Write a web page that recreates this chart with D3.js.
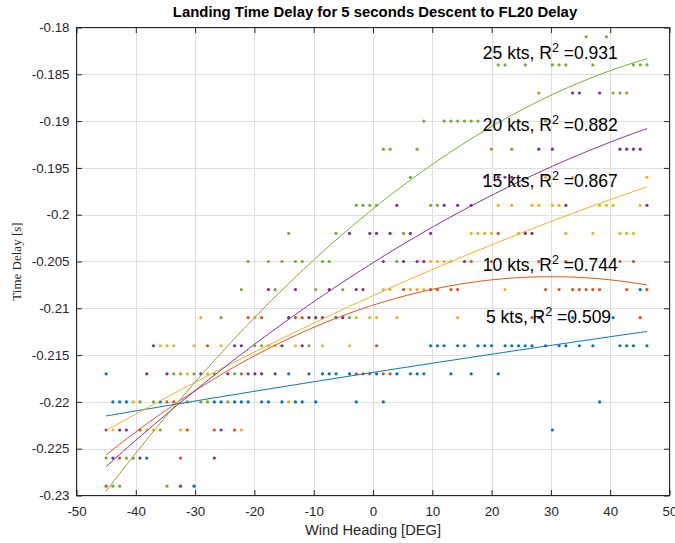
<!DOCTYPE html>
<html>
<head>
<meta charset="utf-8">
<script src="https://cdn.jsdelivr.net/npm/d3@7"></script>
<style>
html, body { margin: 0; padding: 0; background: #ffffff; }
svg { display: block; }
</style>
</head>
<body>
<svg id="chart" width="675" height="543"></svg>
<script>
// ---------------- DATA ----------------
const titleText = "Landing Time Delay for 5 seconds Descent to FL20 Delay";
const xLabelText = "Wind Heading [DEG]";
const yLabelText = "Time Delay [s]";

const xTicks = [-50, -40, -30, -20, -10, 0, 10, 20, 30, 40, 50];
const xTickLabels = ["-50", "-40", "-30", "-20", "-10", "0", "10", "20", "30", "40", "50"];
const yTicks = [-0.23, -0.225, -0.22, -0.215, -0.21, -0.205, -0.2, -0.195, -0.19, -0.185, -0.18];
const yTickLabels = ["-0.23", "-0.225", "-0.22", "-0.215", "-0.21", "-0.205", "-0.2", "-0.195", "-0.19", "-0.185", "-0.18"];

// wind headings (deg) sampled in the runs, indexed 0..80
const headings = [
  -45.00, -43.86, -42.72, -41.58, -40.44, -39.30, -38.16, -37.02, -35.88, -34.74,
  -33.60, -32.46, -31.32, -30.18, -29.04, -27.90, -26.76, -25.62, -24.48, -23.34,
  -22.20, -21.06, -19.92, -18.78, -17.64, -16.50, -15.36, -14.22, -13.08, -11.94,
  -10.80, -9.66, -8.52, -7.38, -6.24, -5.10, -3.96, -2.82, -1.68, -0.54,
  0.60, 1.74, 2.88, 4.02, 5.16, 6.30, 7.44, 8.58, 9.72, 10.86,
  12.00, 13.14, 14.28, 15.42, 16.56, 17.70, 18.84, 19.98, 21.12, 22.26,
  23.40, 24.54, 25.68, 26.82, 27.96, 29.10, 30.24, 31.38, 32.52, 33.66,
  34.80, 35.94, 37.08, 38.22, 39.36, 40.50, 41.64, 42.78, 43.92, 45.06,
  46.20
];

const seriesNames = ["5 kts", "10 kts", "15 kts", "20 kts", "25 kts"];
const r2Values = ["0.509", "0.744", "0.867", "0.882", "0.931"];

// delay value -> heading indices where that delay was observed
const delay5kts = [
  [-0.208, [79]],
  [-0.211, [64, 69, 75]],
  [-0.214, [48, 49, 50, 52, 53, 55, 56, 57, 59, 60, 61, 62, 63, 65, 67, 68, 70, 72, 76, 77, 78, 80]],
  [-0.217, [0, 27, 30, 32, 33, 34, 36, 40, 43, 45, 46, 47, 51, 54, 58]],
  [-0.220, [1, 2, 3, 8, 16, 17, 19, 20, 21, 23, 24, 26, 28, 29, 31, 37, 41, 73]],
  [-0.223, [66]],
  [-0.226, [6]],
  [-0.229, [13]]
];
const delay10kts = [
  [-0.202, [58]],
  [-0.205, [54, 57, 64, 68, 76, 78]],
  [-0.208, [44, 48, 49, 51, 52, 65, 67, 69, 70, 71, 72, 73, 77, 80]],
  [-0.211, [21, 23, 28, 29, 61, 63, 79]],
  [-0.214, [15, 40]],
  [-0.217, [20, 37, 38, 39, 41, 42]],
  [-0.220, [9, 10]],
  [-0.223, [5, 12, 16, 19]],
  [-0.226, [2, 11]],
  [-0.229, [0]]
];
const delay15kts = [
  [-0.196, [65, 69, 80]],
  [-0.199, [58, 60, 63, 64, 66, 67, 73, 74, 75, 79]],
  [-0.202, [54, 55, 56, 57, 61, 68, 72, 76, 77, 78]],
  [-0.205, [48, 49, 50, 51]],
  [-0.208, [41, 42, 45, 46, 47, 59]],
  [-0.211, [14, 22, 37, 39, 40, 43, 52]],
  [-0.214, [8, 9, 10, 13, 17, 24, 25, 28, 32, 36]],
  [-0.217, [12, 15]],
  [-0.220, [4, 27]],
  [-0.223, [1, 6, 7, 11, 20]]
];
const delay20kts = [
  [-0.187, [69, 70, 73]],
  [-0.193, [64, 66, 76, 77, 78, 79]],
  [-0.196, [56, 58, 59, 60]],
  [-0.199, [43, 50, 52, 54, 68, 80]],
  [-0.202, [36, 39, 40, 42, 45, 48, 62, 63]],
  [-0.205, [41, 44, 46, 47, 53]],
  [-0.208, [24, 28, 33, 37, 38]],
  [-0.211, [27, 30, 31, 32, 34, 35]],
  [-0.214, [7, 19, 20, 26, 29]],
  [-0.217, [6, 9, 14, 18, 21, 22, 23, 25]],
  [-0.223, [0, 2, 3, 17]],
  [-0.226, [1, 5, 16]],
  [-0.229, [11]]
];
const delay25kts = [
  [-0.181, [71, 74]],
  [-0.184, [58, 59, 62, 66, 67, 68, 72, 78, 79, 80]],
  [-0.187, [64, 75, 76, 77]],
  [-0.190, [47, 50, 51, 52, 53, 54, 55, 61, 65, 73]],
  [-0.193, [41, 42, 46, 57, 60]],
  [-0.196, [45]],
  [-0.199, [37, 38, 39, 40, 48, 49]],
  [-0.202, [27, 34, 44]],
  [-0.205, [21, 24, 26, 28, 29, 32, 33, 43]],
  [-0.208, [20, 25, 31, 35]],
  [-0.211, [17, 36]],
  [-0.214, [22, 23, 30]],
  [-0.217, [10, 11, 13, 16, 19]],
  [-0.220, [5, 7, 12, 14, 15, 18]],
  [-0.223, [8]],
  [-0.226, [0, 3, 4]],
  [-0.229, [1, 2, 9]]
];

// quadratic fit coefficients [p2, p1, p0] (delay = p2*h^2 + p1*h + p0)
const fit5kts = [-9.5e-8, 9.903e-5, -0.21685];
const fit10kts = [-3.385e-6, 2.031e-4, -0.20967];
const fit15kts = [-7.48e-7, 2.862e-4, -0.20865];
const fit20kts = [-1.906e-6, 3.982e-4, -0.20513];
const fit25kts = [-3.541e-6, 5.108e-4, -0.19938];

// ---------------- LAYOUT / STYLE ----------------
const W = 675, H = 543;
const plotLeft = 76.5, plotRight = 669.5, plotTop = 27.5, plotBottom = 495.5;
const colors = ["#0072BD", "#D95319", "#EDB120", "#7E2F8E", "#77AC30"];
const axisColor = "#262626";
const gridColor = "#dfdfdf";
const sansFont = "'Liberation Sans', Arial, Helvetica, sans-serif";
const serifFont = "'Liberation Serif', 'Times New Roman', serif";
// annotation anchors (data coords, text centered at x, baseline at y)
const annoAnchors = [
  { x: 29.6, y: -0.21159 },
  { x: 29.9, y: -0.20598 },
  { x: 29.9, y: -0.19709 },
  { x: 29.9, y: -0.19109 },
  { x: 29.9, y: -0.18341 }
];

const allDelays = [delay5kts, delay10kts, delay15kts, delay20kts, delay25kts];
const allFits = [fit5kts, fit10kts, fit15kts, fit20kts, fit25kts];

// ---------------- DRAW ----------------
const svg = d3.select("#chart");
svg.append("rect").attr("width", W).attr("height", H).attr("fill", "#ffffff");

const x = d3.scaleLinear().domain([-50, 50]).range([plotLeft, plotRight]);
const y = d3.scaleLinear().domain([-0.23, -0.18]).range([plotBottom, plotTop]);

// grid
const grid = svg.append("g").attr("class", "grid");
grid.selectAll("line.gx").data(xTicks).join("line")
  .attr("class", "gx")
  .attr("x1", d => Math.round(x(d)) + 0.5).attr("x2", d => Math.round(x(d)) + 0.5)
  .attr("y1", plotTop).attr("y2", plotBottom)
  .attr("stroke", gridColor).attr("stroke-width", 1);
grid.selectAll("line.gy").data(yTicks).join("line")
  .attr("class", "gy")
  .attr("y1", d => Math.round(y(d)) + 0.5).attr("y2", d => Math.round(y(d)) + 0.5)
  .attr("x1", plotLeft).attr("x2", plotRight)
  .attr("stroke", gridColor).attr("stroke-width", 1);

// scatter points
const dots = svg.append("g").attr("class", "dots");
allDelays.forEach((rows, si) => {
  const pts = [];
  rows.forEach(([delay, idx]) => idx.forEach(k => pts.push([headings[k], delay])));
  dots.append("g").selectAll("circle").data(pts).join("circle")
    .attr("cx", d => x(d[0]))
    .attr("cy", d => y(d[1]))
    .attr("r", 1.6)
    .attr("fill", colors[si]);
});

// fit curves
const hMin = d3.min(headings), hMax = d3.max(headings);
const hSamples = d3.range(0, 201).map(i => hMin + (hMax - hMin) * i / 200);
const line = d3.line().x(d => x(d[0])).y(d => y(d[1]));
const curves = svg.append("g").attr("class", "fits");
allFits.forEach((p, si) => {
  const pts = hSamples.map(h => [h, p[0] * h * h + p[1] * h + p[2]]);
  curves.append("path")
    .attr("d", line(pts))
    .attr("fill", "none")
    .attr("stroke", colors[si])
    .attr("stroke-width", 1);
});

// axes (ticks inward on all four sides)
const tickLen = 5.5;
const axB = svg.append("g").attr("transform", `translate(0,${plotBottom})`)
  .call(d3.axisBottom(x).tickValues(xTicks).tickFormat((d, i) => xTickLabels[i])
    .tickSizeInner(-tickLen).tickSizeOuter(0).tickPadding(11.5));
const axT = svg.append("g").attr("transform", `translate(0,${plotTop})`)
  .call(d3.axisTop(x).tickValues(xTicks).tickFormat("")
    .tickSizeInner(-tickLen).tickSizeOuter(0));
const axL = svg.append("g").attr("transform", `translate(${plotLeft},0)`)
  .call(d3.axisLeft(y).tickValues(yTicks).tickFormat((d, i) => yTickLabels[i])
    .tickSizeInner(-tickLen).tickSizeOuter(0).tickPadding(7));
const axR = svg.append("g").attr("transform", `translate(${plotRight},0)`)
  .call(d3.axisRight(y).tickValues(yTicks).tickFormat("")
    .tickSizeInner(-tickLen).tickSizeOuter(0));
[axB, axT, axL, axR].forEach(a => {
  a.select(".domain").remove();
  a.selectAll(".tick line").attr("stroke", axisColor).attr("stroke-width", 1);
  a.selectAll(".tick text")
    .attr("fill", axisColor)
    .style("font-family", sansFont)
    .style("font-size", "13.3px");
});
// box
svg.append("rect")
  .attr("x", plotLeft).attr("y", plotTop)
  .attr("width", plotRight - plotLeft).attr("height", plotBottom - plotTop)
  .attr("fill", "none").attr("stroke", axisColor).attr("stroke-width", 1);

// annotations
const annos = svg.append("g").attr("class", "annotations");
seriesNames.forEach((name, i) => {
  const t = annos.append("text")
    .attr("x", x(annoAnchors[i].x))
    .attr("y", y(annoAnchors[i].y))
    .attr("text-anchor", "middle")
    .attr("fill", "#000000")
    .style("font-family", sansFont)
    .style("font-size", "17.5px");
  t.append("tspan").text(name + ", R");
  t.append("tspan").attr("dy", -7).style("font-size", "12.5px").text("2");
  t.append("tspan").attr("dy", 7).text(" =" + r2Values[i]);
});

// title
svg.append("text")
  .attr("x", (plotLeft + plotRight) / 2 + 2)
  .attr("y", 16.5)
  .attr("text-anchor", "middle")
  .attr("fill", "#000000")
  .style("font-family", sansFont)
  .style("font-size", "14.9px")
  .style("font-weight", "bold")
  .text(titleText);

// x label
svg.append("text")
  .attr("x", (plotLeft + plotRight) / 2)
  .attr("y", 535)
  .attr("text-anchor", "middle")
  .attr("fill", axisColor)
  .style("font-family", sansFont)
  .style("font-size", "14.67px")
  .text(xLabelText);

// y label
svg.append("text")
  .attr("transform", `translate(21,${(plotTop + plotBottom) / 2}) rotate(-90)`)
  .attr("text-anchor", "middle")
  .attr("fill", axisColor)
  .style("font-family", serifFont)
  .style("font-size", "13px")
  .text(yLabelText);
</script>
</body>
</html>
